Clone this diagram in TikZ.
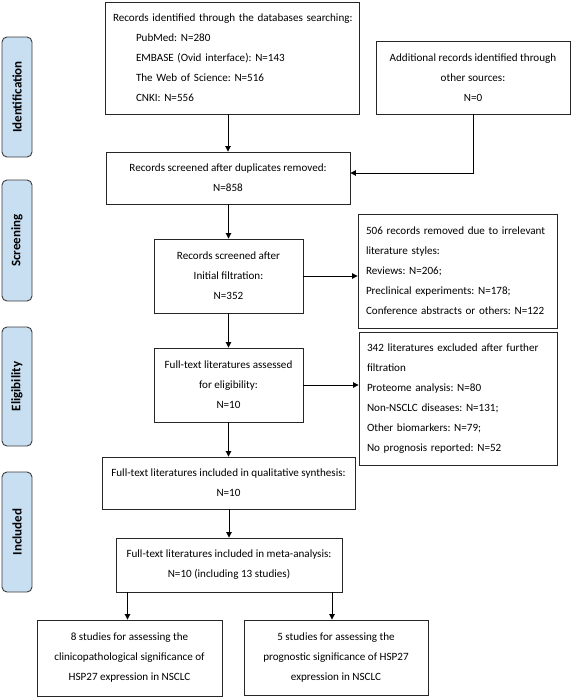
\documentclass[tikz,border=0pt]{standalone}
\usepackage{fontspec}
\setmainfont{Carlito}
\usetikzlibrary{arrows.meta}
\definecolor{lblfill}{RGB}{200,222,241}
\definecolor{lbldraw}{RGB}{60,60,60}
\frenchspacing
\begin{document}
\begin{tikzpicture}[x=1pt,y=-1pt,
  box/.style={draw=black!85,line width=0.9pt,rectangle,inner sep=0pt,
    font=\fontsize{11.1}{20}\selectfont,align=center},
  lbox/.style={box,align=left},
  side/.style={draw=lbldraw,fill=lblfill,line width=0.9pt,rounded corners=5pt,
    minimum height=30pt,inner sep=0pt,font=\fontsize{13}{14}\selectfont\bfseries,rotate=90},
  arr/.style={-{Triangle[length=5.5pt,width=5.5pt]},line width=0.9pt,black}]
\useasboundingbox (0,0) rectangle (572,697);
% side labels
\node[side,minimum width=120pt] (lid) at (17,97) {Identification};
\node[side,minimum width=121pt] (lsc) at (17,240.5) {Screening};
\node[side,minimum width=119pt] (lel) at (17,386.5) {Eligibility};
\node[side,minimum width=120pt] (lin) at (17,532) {Included};
% boxes
\node[lbox,minimum width=254pt,minimum height=112pt,text width=238pt] (b1) at (232,58)
 {\mbox{Records identified through the databases searching:}\\
  \hspace*{23pt}PubMed: N=280\\
  \hspace*{23pt}EMBASE (Ovid interface): N=143\\
  \hspace*{23pt}The Web of Science: N=516\\
  \hspace*{23pt}CNKI: N=556};
\node[box,minimum width=194pt,minimum height=73pt] (b2) at (473,77.5)
 {Additional records identified through\\other sources:\\N=0};
\node[box,minimum width=244pt,minimum height=52pt] (b3) at (228,178)
 {Records screened after duplicates removed:\\N=858};
\node[box,minimum width=149pt,minimum height=74pt] (b4) at (228.5,276)
 {Records screened after\\Initial filtration:\\N=352};
\node[lbox,minimum width=199pt,minimum height=114pt,text width=183pt] (b5) at (457.5,271)
 {506 records removed due to irrelevant\\literature styles:\\Reviews: N=206;\\Preclinical experiments: N=178;\\\mbox{Conference abstracts or others: N=122}};
\node[box,minimum width=149pt,minimum height=74pt] (b6) at (228.5,385)
 {Full-text literatures assessed\\for eligibility:\\N=10};
\node[lbox,minimum width=198pt,minimum height=133pt,text width=182pt] (b7) at (458,398.5)
 {\mbox{342 literatures excluded after further}\\filtration\\Proteome analysis: N=80\\Non-NSCLC diseases: N=131;\\Other biomarkers: N=79;\\No prognosis reported: N=52};
\node[box,minimum width=253pt,minimum height=52pt] (b8) at (228.5,483)
 {Full-text literatures included in qualitative synthesis:\\N=10};
\node[box,minimum width=226pt,minimum height=54pt] (b9) at (229,565)
 {Full-text literatures included in meta-analysis:\\N=10 (including 13 studies)};
\node[box,minimum width=185pt,minimum height=76pt] (b10) at (129.5,658)
 {8 studies for assessing the\\clinicopathological significance of\\HSP27 expression in NSCLC};
\node[box,minimum width=184pt,minimum height=75pt] (b11) at (336,657.5)
 {5 studies for assessing the\\prognostic significance of HSP27\\expression in NSCLC};
% connectors
\draw[arr] (b1.south -| b3.north) -- (b3.north);
\draw[arr] (b2.south) |- ([yshift=5pt]b3.east);
\draw[arr] (b3.south -| b4.north) -- (b4.north);
\draw[arr] (b4.east) -- (b4.east -| b5.west);
\draw[arr] (b4.south -| b6.north) -- (b6.north);
\draw[arr] (b6.east) -- (b6.east -| b7.west);
\draw[arr] (b6.south -| b8.north) -- (b8.north);
\draw[arr] (b8.south -| b9.north) -- (b9.north);
\draw[arr] ([xshift=-2pt]b10.north |- b9.south) -- ([xshift=-2pt]b10.north);
\draw[arr] ([xshift=-4pt]b11.north |- b9.south) -- ([xshift=-4pt]b11.north);
\end{tikzpicture}
\end{document}
